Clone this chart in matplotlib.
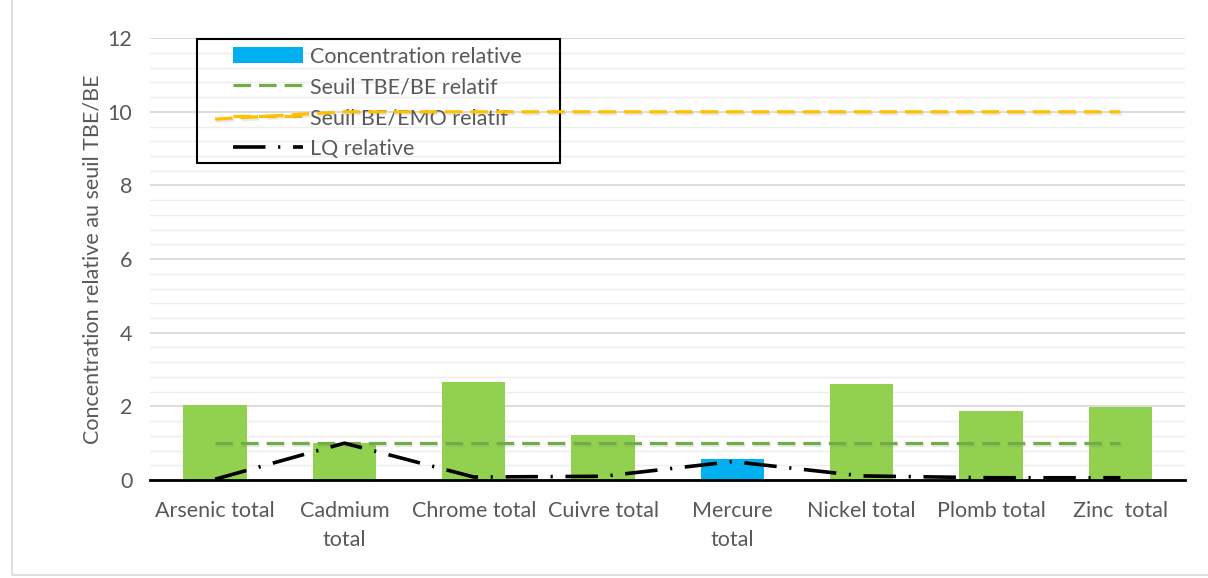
import matplotlib
matplotlib.use("Agg")
import matplotlib.pyplot as plt
import matplotlib.patheffects as pe
from matplotlib.patches import Rectangle, Patch
from matplotlib.lines import Line2D
import numpy as np

categories = ["Arsenic total", "Cadmium\ntotal", "Chrome total", "Cuivre total",
              "Mercure\ntotal", "Nickel total", "Plomb total", "Zinc  total"]
concentration = [2.04, 1.0, 2.66, 1.21, 0.58, 2.61, 1.87, 1.98]
seuil_tbe_be = [1, 1, 1, 1, 1, 1, 1, 1]
seuil_be_emo = [9.8, 10, 10, 10, 10, 10, 10, 10]
lq_relative = [0.02, 1.0, 0.08, 0.1, 0.5, 0.11, 0.06, 0.06]
bar_colors = ["#92D050", "#92D050", "#92D050", "#92D050",
              "#00B0F0", "#92D050", "#92D050", "#92D050"]

plt.rcParams['font.family'] = ['Lato', 'DejaVu Sans']
grey = "#595959"
fs = 15.5

fig = plt.figure(figsize=(12.08, 5.78), dpi=100)
ax = fig.add_axes([0.1245, 0.1696, 0.8565, 0.7644])

x = np.arange(len(categories))
shadow = [pe.SimpleLineShadow(offset=(1, -1.5), shadow_color="0.5", alpha=0.18), pe.Normal()]

ax.bar(x, concentration, width=0.49, color=bar_colors, zorder=2)
ax.plot(x, seuil_tbe_be, color="#70AD47", lw=2.3, linestyle=(0, (5.5, 2.5)),
        zorder=3, path_effects=shadow)
ax.plot(x, seuil_be_emo, color="#FFC000", lw=2.3, linestyle=(0, (5.5, 2.5)),
        zorder=3, path_effects=shadow)
ax.plot(x, lq_relative, color="black", lw=2.6, linestyle=(0, (9, 3.5, 0.6, 3.5)),
        zorder=4)

ax.set_xlim(-0.5, len(categories) - 0.5)
ax.set_ylim(0, 12)
ax.set_yticks(np.arange(0, 13, 2))
ax.set_yticks(np.arange(0, 12.01, 0.4), minor=True)
ax.grid(axis='y', which='major', color="#D9D9D9", lw=1.3, zorder=0)
ax.grid(axis='y', which='minor', color="#EDEDED", lw=1.0, zorder=0)
ax.set_axisbelow(True)
for s in ["top", "right", "left"]:
    ax.spines[s].set_visible(False)
ax.spines["bottom"].set_color("black")
ax.spines["bottom"].set_linewidth(2)
ax.spines["bottom"].set_zorder(5)
ax.tick_params(axis='both', which='both', length=0, labelsize=fs, labelcolor=grey)
ax.tick_params(axis='y', pad=13)
ax.tick_params(axis='x', pad=15)
ax.set_xticks(x)
ax.set_xticklabels(categories, linespacing=1.55)
ax.set_ylabel("Concentration relative au seuil TBE/BE", fontsize=fs, color=grey, labelpad=4)

handles = [Patch(facecolor="#00B0F0"),
           Line2D([], [], color="#70AD47", lw=2.3, linestyle=(0, (5.5, 2.5))),
           Line2D([], [], color="#FFC000", lw=2.3, linestyle=(0, (5.5, 2.5))),
           Line2D([], [], color="black", lw=2.6, linestyle=(0, (9, 3.5, 0.6, 3.5)))]
labels = ["Concentration relative", "Seuil TBE/BE relatif", "Seuil BE/EMO relatif", "LQ relative"]
leg = ax.legend(handles, labels, loc="upper left", bbox_to_anchor=(0.080, 0.981),
                fontsize=fs, frameon=False,
                handlelength=3.25, handleheight=0.8,
                labelspacing=0.5, borderpad=0, handletextpad=0.3,
                borderaxespad=0, labelcolor=grey)
leg.set_zorder(2.5)
ax.add_patch(Rectangle((0.0454, 0.717), 0.3507, 0.2807, transform=ax.transAxes,
                       fill=False, edgecolor="black", lw=1.5, zorder=2.5, clip_on=False))

fig.patches.append(Rectangle((12 / 1208, 3 / 578), 1.2, 1.2, transform=fig.transFigure,
                             fill=False, edgecolor="#D9D9D9", lw=1.2))

fig.savefig("out.png", dpi=100)
